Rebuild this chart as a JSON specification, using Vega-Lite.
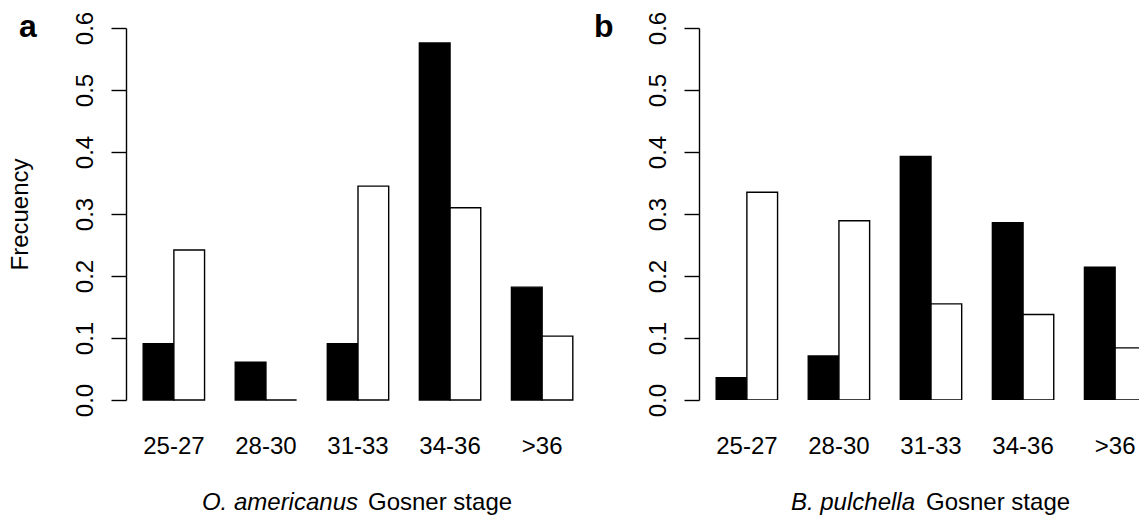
{
  "$schema": "https://vega.github.io/schema/vega-lite/v6.json",
  "background": "white",
  "padding": {"left": 7, "top": 11, "right": 0, "bottom": 0},
  "spacing": 4,
  "config": {
    "font": "Liberation Sans",
    "view": {"stroke": null},
    "title": {"fontSize": 32, "fontWeight": "bold", "color": "black", "anchor": "start", "frame": "group", "baseline": "alphabetic", "offset": -33},
    "axisY": {
      "domainColor": "black", "domainWidth": 1.4,
      "tickColor": "black", "tickWidth": 1.4, "tickSize": 15,
      "labelFontSize": 24, "labelColor": "black", "labelAngle": 270,
      "labelAlign": "center", "labelBaseline": "alphabetic", "labelPadding": 19,
      "labelFlush": false, "labelOverlap": false,
      "grid": false,
      "titleFontSize": 24, "titleFontWeight": "normal", "titleColor": "black",
      "titleBaseline": "alphabetic", "titlePadding": 46
    },
    "axisX": {
      "domain": false, "ticks": false, "tickSize": 0,
      "labelFontSize": 24, "labelColor": "black", "labelAngle": 0,
      "labelBaseline": "alphabetic", "labelPadding": 53, "title": null
    }
  },
  "datasets": {
    "oam": [
      {"stage": "25-27", "series": "S1", "freq": 0.091},
      {"stage": "25-27", "series": "S2", "freq": 0.242},
      {"stage": "28-30", "series": "S1", "freq": 0.061},
      {"stage": "28-30", "series": "S2", "freq": 0.0},
      {"stage": "31-33", "series": "S1", "freq": 0.091},
      {"stage": "31-33", "series": "S2", "freq": 0.345},
      {"stage": "34-36", "series": "S1", "freq": 0.576},
      {"stage": "34-36", "series": "S2", "freq": 0.310},
      {"stage": ">36", "series": "S1", "freq": 0.182},
      {"stage": ">36", "series": "S2", "freq": 0.103}
    ],
    "bpu": [
      {"stage": "25-27", "series": "S1", "freq": 0.036},
      {"stage": "25-27", "series": "S2", "freq": 0.335},
      {"stage": "28-30", "series": "S1", "freq": 0.071},
      {"stage": "28-30", "series": "S2", "freq": 0.289},
      {"stage": "31-33", "series": "S1", "freq": 0.393},
      {"stage": "31-33", "series": "S2", "freq": 0.155},
      {"stage": "34-36", "series": "S1", "freq": 0.286},
      {"stage": "34-36", "series": "S2", "freq": 0.138},
      {"stage": ">36", "series": "S1", "freq": 0.214},
      {"stage": ">36", "series": "S2", "freq": 0.084}
    ]
  },
  "hconcat": [
    {
      "width": 464, "height": 372,
      "title": {"text": "a", "dx": -107},
      "layer": [
        {
          "data": {"name": "oam"},
          "mark": {"type": "bar", "stroke": "black", "strokeWidth": 1.4},
          "encoding": {
            "x": {"field": "stage", "type": "nominal",
                  "scale": {"domain": ["25-27", "28-30", "31-33", "34-36", ">36"], "paddingInner": 0.3333, "paddingOuter": 0.1867},
                  "axis": {}},
            "xOffset": {"field": "series", "type": "nominal", "scale": {"domain": ["S1", "S2"], "paddingInner": 0, "paddingOuter": 0}},
            "y": {"field": "freq", "type": "quantitative", "scale": {"domain": [0, 0.6], "nice": false},
                  "axis": {"title": "Frecuency", "values": [0, 0.1, 0.2, 0.3, 0.4, 0.5, 0.6], "format": ".1f"}},
            "fill": {"field": "series", "type": "nominal", "scale": {"domain": ["S1", "S2"], "range": ["black", "white"]}, "legend": null}
          }
        },
        {
          "data": {"values": [{"label": "O. americanus"}]},
          "mark": {"type": "text", "fontSize": 24, "fontStyle": "italic", "align": "right", "baseline": "alphabetic", "color": "black", "y": "height", "dy": 110, "dx": 0},
          "encoding": {"x": {"datum": "31-33", "type": "nominal"}, "text": {"field": "label"}}
        },
        {
          "data": {"values": [{"label": "Gosner stage"}]},
          "mark": {"type": "text", "fontSize": 24, "align": "left", "baseline": "alphabetic", "color": "black", "y": "height", "dy": 110, "dx": 10},
          "encoding": {"x": {"datum": "31-33", "type": "nominal"}, "text": {"field": "label"}}
        }
      ]
    },
    {
      "width": 442, "height": 372,
      "title": {"text": "b", "dx": -105},
      "layer": [
        {
          "data": {"name": "bpu"},
          "mark": {"type": "bar", "stroke": "black", "strokeWidth": 1.4, "clip": true},
          "encoding": {
            "x": {"field": "stage", "type": "nominal",
                  "scale": {"domain": ["25-27", "28-30", "31-33", "34-36", ">36"], "range": [0, 464], "paddingInner": 0.3333, "paddingOuter": 0.1867},
                  "axis": {}},
            "xOffset": {"field": "series", "type": "nominal", "scale": {"domain": ["S1", "S2"], "paddingInner": 0, "paddingOuter": 0}},
            "y": {"field": "freq", "type": "quantitative", "scale": {"domain": [0, 0.6], "nice": false},
                  "axis": {"title": null, "values": [0, 0.1, 0.2, 0.3, 0.4, 0.5, 0.6], "format": ".1f"}},
            "fill": {"field": "series", "type": "nominal", "scale": {"domain": ["S1", "S2"], "range": ["black", "white"]}, "legend": null}
          }
        },
        {
          "data": {"values": [{"label": "B. pulchella"}]},
          "mark": {"type": "text", "fontSize": 24, "fontStyle": "italic", "align": "right", "baseline": "alphabetic", "color": "black", "y": "height", "dy": 110, "dx": -16},
          "encoding": {"x": {"datum": "31-33", "type": "nominal"}, "text": {"field": "label"}}
        },
        {
          "data": {"values": [{"label": "Gosner stage"}]},
          "mark": {"type": "text", "fontSize": 24, "align": "left", "baseline": "alphabetic", "color": "black", "y": "height", "dy": 110, "dx": -5},
          "encoding": {"x": {"datum": "31-33", "type": "nominal"}, "text": {"field": "label"}}
        }
      ]
    }
  ]
}
